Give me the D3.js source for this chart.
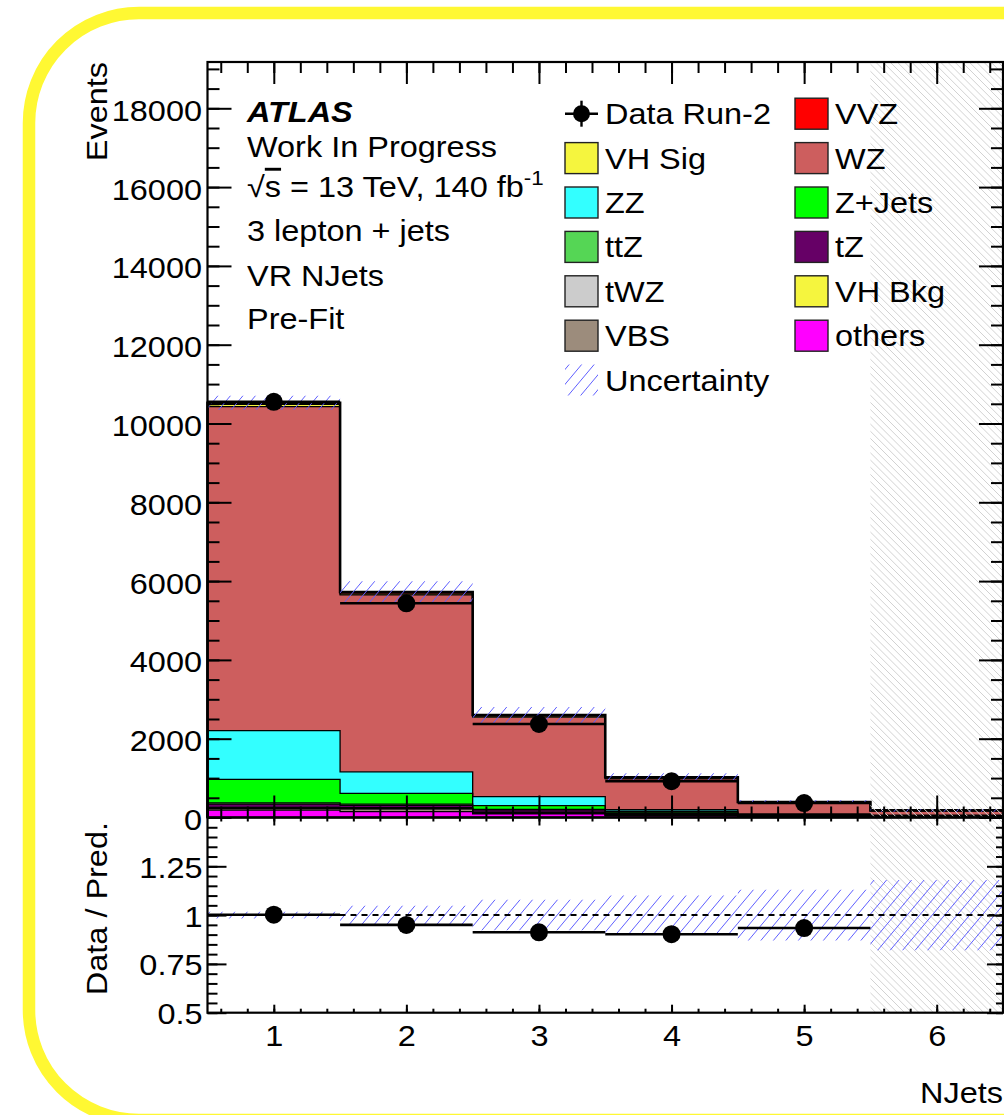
<!DOCTYPE html>
<html>
<head>
<meta charset="utf-8">
<script src="https://cdn.jsdelivr.net/npm/d3@7"></script>
<style>
  body { margin: 0; background: #fff; }
  text { font-family: "Liberation Sans", Arial, Helvetica, sans-serif; fill: #000; }
</style>
</head>
<body>
<svg id="chart" width="1004" height="1115"></svg>
<script>
// ---- data: events per NJets bin (bins 1..6, bin 6 blinded) ----
const bins = [1, 2, 3, 4, 5, 6];
const others = [185, 150, 90, 40, 15, 8];
const vbs    = [40, 70, 20, 15, 8, 5];
const vhBkg  = [5, 5, 3, 2, 1, 1];
const twz    = [25, 25, 20, 15, 8, 6];
const tz     = [85, 60, 60, 30, 15, 10];
const ttz    = [30, 30, 15, 15, 10, 10];
const zjets  = [600, 270, 92, 35, 15, 8];
const zz     = [1233, 550, 228, 45, 20, 10];
const wz     = [8225, 4488, 2019, 783, 285, 112];
const vhSig  = [55, 30, 25, 20, 8, 5];
const vvz    = [45, 45, 30, 20, 8, 5];
const dataRun2 = [10550, 5436, 2373, 920, 367, null];
const relUnc = [0.017, 0.048, 0.078, 0.10, 0.13, 0.18];
const blindedBins = [6];

// ---- axis ticks ----
const yMajor = [0, 2000, 4000, 6000, 8000, 10000, 12000, 14000, 16000, 18000];
const yMinor = d3.range(0, 19001, 500);
const rMajorLabels = [0.5, 0.75, 1, 1.25];
const rMajor = [0.5, 0.75, 1, 1.25, 1.5];
const rMinor = d3.range(0, 21).map(i => 0.5 + i * 0.05);
const xMajor = [1, 2, 3, 4, 5, 6];
const xMinor = d3.range(0, 30).map(i => 0.6 + i * 0.2);

// ---- legend ----
const legendLeft = ["Data Run-2", "VH Sig", "ZZ", "ttZ", "tWZ", "VBS", "Uncertainty"];
const legendRight = ["VVZ", "WZ", "Z+Jets", "tZ", "VH Bkg", "others"];

// stack order, bottom to top
const samples = [
  { key: "others", values: others, color: "#ff00ff" },
  { key: "VBS", values: vbs, color: "#9c8c7c" },
  { key: "VH Bkg", values: vhBkg, color: "#f5f53e" },
  { key: "tWZ", values: twz, color: "#cccccc" },
  { key: "tZ", values: tz, color: "#660066" },
  { key: "ttZ", values: ttz, color: "#55d655" },
  { key: "Z+Jets", values: zjets, color: "#00ff00" },
  { key: "ZZ", values: zz, color: "#33ffff" },
  { key: "WZ", values: wz, color: "#cd5e5e" },
  { key: "VH Sig", values: vhSig, color: "#f5f53e" },
  { key: "VVZ", values: vvz, color: "#ff0000" }
];
const colorOf = Object.fromEntries(samples.map(s => [s.key, s.color]));

const FS = 29, SX = 1.12;
const svg = d3.select("#chart");
const defs = svg.append("defs");

svg.append("rect").attr("width", 1004).attr("height", 1115).attr("fill", "#fff");
svg.append("rect")
  .attr("x", 29).attr("y", 13).attr("width", 1300).attr("height", 1107)
  .attr("rx", 110).attr("fill", "none")
  .attr("stroke", "#fff833").attr("stroke-width", 12.5);

// ---- hatching drawn as clipped parallel lines ----
// dir = +1 for "/" lines, -1 for "\" lines; spacing measured horizontally
let clipId = 0;
function hatch(g, x0, y0, x1, y1, spacing, angleDeg, dir, color, width) {
  const id = "hc" + (clipId++);
  defs.append("clipPath").attr("id", id)
    .append("rect").attr("x", x0).attr("y", y0).attr("width", x1 - x0).attr("height", y1 - y0);
  const cot = 1 / Math.tan(angleDeg * Math.PI / 180);
  const hg = g.append("g").attr("clip-path", `url(#${id})`);
  let cMin, cMax;
  if (dir > 0) { cMin = x0 + y0 * cot; cMax = x1 + y1 * cot; }
  else { cMin = x0 - y1 * cot; cMax = x1 - y0 * cot; }
  const k0 = Math.floor(cMin / spacing) - 1, k1 = Math.ceil(cMax / spacing) + 1;
  const ya = y0 - 2, yb = y1 + 2;
  const xAt = (c, yy) => dir > 0 ? c - yy * cot : c + yy * cot;
  const ks = d3.range(k0, k1 + 1);
  hg.selectAll("line").data(ks).join("line")
    .attr("x1", k => xAt(k * spacing, ya)).attr("y1", ya)
    .attr("x2", k => xAt(k * spacing, yb)).attr("y2", yb)
    .attr("stroke", color).attr("stroke-width", width);
}
const UNC = { s: 12.5, a: 50, dir: 1, color: "#5f5fff", w: 1 };
const BLIND = { s: 7.2, a: 45, dir: -1, color: "#d2d2d2", w: 1 };

// ---- scales ----
const x = d3.scaleLinear().domain([0.5, 6.5]).range([207.5, 1003]);
const y = d3.scaleLinear().domain([0, 19175]).range([817.5, 62]);
const yr = d3.scaleLinear().domain([0.5, 1.5]).range([1012.7, 817.5]);

// ---- stack ----
const rows = bins.map((b, i) => {
  const r = { bin: b };
  samples.forEach(s => r[s.key] = s.values[i]);
  return r;
});
const series = d3.stack().keys(samples.map(s => s.key))(rows);
const totals = series[series.length - 1].map(d => d[1]);
const edges = bins.map(b => b - 0.5).concat([bins[bins.length - 1] + 0.5]);
const last = bins.length - 1;

const area = d3.area()
  .x(d => x(d.e)).y0(d => y(d.lo)).y1(d => y(d.hi))
  .curve(d3.curveStepAfter);
const step = d3.line().x(d => x(d.e)).y(d => y(d.v)).curve(d3.curveStepAfter);

const main = svg.append("g");
series.forEach(layer => {
  const pts = edges.map((e, i) => {
    const d = layer[Math.min(i, last)];
    return { e, lo: d[0], hi: d[1] };
  });
  main.append("path").attr("d", area(pts)).attr("fill", colorOf[layer.key]);
});
series.forEach((layer, k) => {
  const pts = [{ e: edges[0], v: 0 }]
    .concat(edges.map((e, i) => ({ e, v: layer[Math.min(i, last)][1] })))
    .concat([{ e: edges[edges.length - 1], v: 0 }]);
  main.append("path").attr("d", step(pts))
    .attr("fill", "none").attr("stroke", "#000")
    .attr("stroke-width", k === series.length - 1 ? 2.6 : 1.3);
});

// blinded region (both panels)
blindedBins.forEach(b => {
  hatch(svg, x(b - 0.5), y.range()[1], x(b + 0.5), yr.range()[0],
        BLIND.s, BLIND.a, BLIND.dir, BLIND.color, BLIND.w);
});

// uncertainty band on the prediction
bins.forEach((b, i) => {
  hatch(main, x(b - 0.5), y(totals[i] * (1 + relUnc[i])), x(b + 0.5), y(totals[i] * (1 - relUnc[i])),
        UNC.s, UNC.a, UNC.dir, UNC.color, UNC.w);
});

// data
const dataPts = bins.map((b, i) => ({ b, v: dataRun2[i], t: totals[i] })).filter(d => d.v !== null);
main.selectAll(".dbar").data(dataPts).join("line")
  .attr("x1", d => x(d.b - 0.5)).attr("x2", d => x(d.b + 0.5))
  .attr("y1", d => y(d.v)).attr("y2", d => y(d.v))
  .attr("stroke", "#000").attr("stroke-width", 2.6);
main.selectAll(".dpt").data(dataPts).join("circle")
  .attr("cx", d => x(d.b)).attr("cy", d => y(d.v)).attr("r", 9).attr("fill", "#000");

// ---- ratio panel ----
const ratio = svg.append("g");
bins.forEach((b, i) => {
  hatch(ratio, x(b - 0.5), yr(1 + relUnc[i]), x(b + 0.5), yr(1 - relUnc[i]),
        UNC.s, UNC.a, UNC.dir, UNC.color, UNC.w);
});
ratio.append("line")
  .attr("x1", x(0.5)).attr("x2", x(6.5)).attr("y1", yr(1)).attr("y2", yr(1))
  .attr("stroke", "#000").attr("stroke-width", 2).attr("stroke-dasharray", "6,5");
ratio.selectAll(".rbar").data(dataPts).join("line")
  .attr("x1", d => x(d.b - 0.5)).attr("x2", d => x(d.b + 0.5))
  .attr("y1", d => yr(d.v / d.t)).attr("y2", d => yr(d.v / d.t))
  .attr("stroke", "#000").attr("stroke-width", 2.6);
ratio.selectAll(".rpt").data(dataPts).join("circle")
  .attr("cx", d => x(d.b)).attr("cy", d => yr(d.v / d.t)).attr("r", 9).attr("fill", "#000");

// ---- text helper ----
function label(g, tx, ty, s, anchor, extra) {
  const t = g.append("text")
    .attr("transform", `translate(${tx},${ty})${extra || ""} scale(${SX},1)`)
    .attr("text-anchor", anchor || "start")
    .style("font-size", FS + "px");
  if (s !== null) t.text(s);
  return t;
}

// ---- legend ----
const leg = svg.append("g");
const rowY = i => 113.7 + 44.4 * i;
legendLeft.forEach((name, i) => {
  const cy = rowY(i);
  if (name === "Data Run-2") {
    leg.append("line").attr("x1", 565).attr("x2", 598).attr("y1", cy).attr("y2", cy)
      .attr("stroke", "#000").attr("stroke-width", 2.4);
    leg.append("line").attr("x1", 581.5).attr("x2", 581.5).attr("y1", cy - 13).attr("y2", cy + 13)
      .attr("stroke", "#000").attr("stroke-width", 2.4);
    leg.append("circle").attr("cx", 581.5).attr("cy", cy).attr("r", 8.5).attr("fill", "#000");
  } else if (name === "Uncertainty") {
    hatch(leg, 565, cy - 15.5, 598, cy + 15.5, UNC.s, UNC.a, UNC.dir, UNC.color, UNC.w);
  } else {
    leg.append("rect").attr("x", 565).attr("y", cy - 15.5).attr("width", 33).attr("height", 31)
      .attr("fill", colorOf[name]).attr("stroke", "#222").attr("stroke-width", 1.4);
  }
  label(leg, 605, cy + 10.5, name);
});
legendRight.forEach((name, i) => {
  const cy = rowY(i);
  leg.append("rect").attr("x", 795).attr("y", cy - 15.5).attr("width", 33).attr("height", 31)
    .attr("fill", colorOf[name]).attr("stroke", "#222").attr("stroke-width", 1.4);
  label(leg, 835, cy + 10.5, name);
});

// ---- annotation block ----
const ann = svg.append("g");
label(ann, 247, 121.7, "ATLAS").style("font-weight", "bold").style("font-style", "italic");
label(ann, 247, 157, "Work In Progress");
const sq = label(ann, 247, 197, null);
sq.append("tspan").text("√");
sq.append("tspan").text("s").style("text-decoration", "overline");
sq.append("tspan").text(" = 13 TeV, 140 fb");
sq.append("tspan").text("-1").attr("dy", -12).style("font-size", "20px");
label(ann, 247, 240.7, "3 lepton + jets");
label(ann, 247, 285.7, "VR NJets");
label(ann, 247, 329, "Pre-Fit");

// ---- axes ----
function styleAxis(g) {
  g.select(".domain").remove();
  g.selectAll(".tick line").attr("stroke", "#000").attr("stroke-width", 2);
  return g;
}
function scaleLeftLabels(g, pad, dyPx) {
  g.selectAll(".tick text")
    .attr("x", -pad / SX).attr("dy", null).attr("y", dyPx)
    .attr("transform", `scale(${SX},1)`)
    .style("font-size", FS + "px").attr("fill", "#000");
}
const L = x.range()[0], R = x.range()[1];
const T = y.range()[1], B = y.range()[0];
const RB = yr.range()[0];

// main y: left (labelled) and right
styleAxis(svg.append("g").attr("transform", `translate(${L},0)`)
  .call(d3.axisLeft(y).tickValues(yMinor).tickSize(-12).tickFormat("")));
const yl = styleAxis(svg.append("g").attr("transform", `translate(${L},0)`)
  .call(d3.axisLeft(y).tickValues(yMajor).tickSize(-24).tickPadding(5.5).tickFormat(d3.format("d"))));
scaleLeftLabels(yl, 5.5, 12);
styleAxis(svg.append("g").attr("transform", `translate(${R},0)`)
  .call(d3.axisLeft(y).tickValues(yMinor).tickSize(12).tickFormat("")));
styleAxis(svg.append("g").attr("transform", `translate(${R},0)`)
  .call(d3.axisLeft(y).tickValues(yMajor).tickSize(24).tickFormat("")));

// main x: top and bottom, unlabelled
[[d3.axisTop, T], [d3.axisBottom, B]].forEach(([ax, yy]) => {
  styleAxis(svg.append("g").attr("transform", `translate(0,${yy})`)
    .call(ax(x).tickValues(xMinor).tickSize(-11).tickFormat("")));
  styleAxis(svg.append("g").attr("transform", `translate(0,${yy})`)
    .call(ax(x).tickValues(xMajor).tickSize(-22).tickFormat("")));
});

// ratio y
styleAxis(svg.append("g").attr("transform", `translate(${L},0)`)
  .call(d3.axisLeft(yr).tickValues(rMinor).tickSize(-10).tickFormat("")));
styleAxis(svg.append("g").attr("transform", `translate(${L},0)`)
  .call(d3.axisLeft(yr).tickValues(rMajor).tickSize(-19).tickFormat("")));
const rl = styleAxis(svg.append("g").attr("transform", `translate(${L},0)`)
  .call(d3.axisLeft(yr).tickValues(rMajorLabels).tickSize(0).tickPadding(5).tickFormat(d => String(d))));
scaleLeftLabels(rl, 5, 11);
styleAxis(svg.append("g").attr("transform", `translate(${R},0)`)
  .call(d3.axisLeft(yr).tickValues(rMinor).tickSize(7).tickFormat("")));
styleAxis(svg.append("g").attr("transform", `translate(${R},0)`)
  .call(d3.axisLeft(yr).tickValues(rMajor).tickSize(16).tickFormat("")));

// ratio x: top (unlabelled) and bottom (labelled)
styleAxis(svg.append("g").attr("transform", `translate(0,${B})`)
  .call(d3.axisTop(x).tickValues(xMinor).tickSize(-4).tickFormat("")));
styleAxis(svg.append("g").attr("transform", `translate(0,${B})`)
  .call(d3.axisTop(x).tickValues(xMajor).tickSize(-8).tickFormat("")));
styleAxis(svg.append("g").attr("transform", `translate(0,${RB})`)
  .call(d3.axisBottom(x).tickValues(xMinor).tickSize(-4).tickFormat("")));
const xb = styleAxis(svg.append("g").attr("transform", `translate(0,${RB})`)
  .call(d3.axisBottom(x).tickValues(xMajor).tickSize(-8).tickPadding(13).tickFormat(d3.format("d"))));
xb.selectAll(".tick text").attr("transform", `scale(${SX},1)`)
  .style("font-size", FS + "px").attr("fill", "#000");

// frames
svg.append("rect").attr("x", L).attr("y", T).attr("width", R - L).attr("height", B - T)
  .attr("fill", "none").attr("stroke", "#000").attr("stroke-width", 2.2);
svg.append("rect").attr("x", L).attr("y", B).attr("width", R - L).attr("height", RB - B)
  .attr("fill", "none").attr("stroke", "#000").attr("stroke-width", 2.2);

// axis titles
label(svg, 107, 62, "Events", "end", " rotate(-90)");
label(svg, 107, 822, "Data / Pred.", "end", " rotate(-90)");
label(svg, 1003, 1102.7, "NJets", "end");
</script>
</body>
</html>
